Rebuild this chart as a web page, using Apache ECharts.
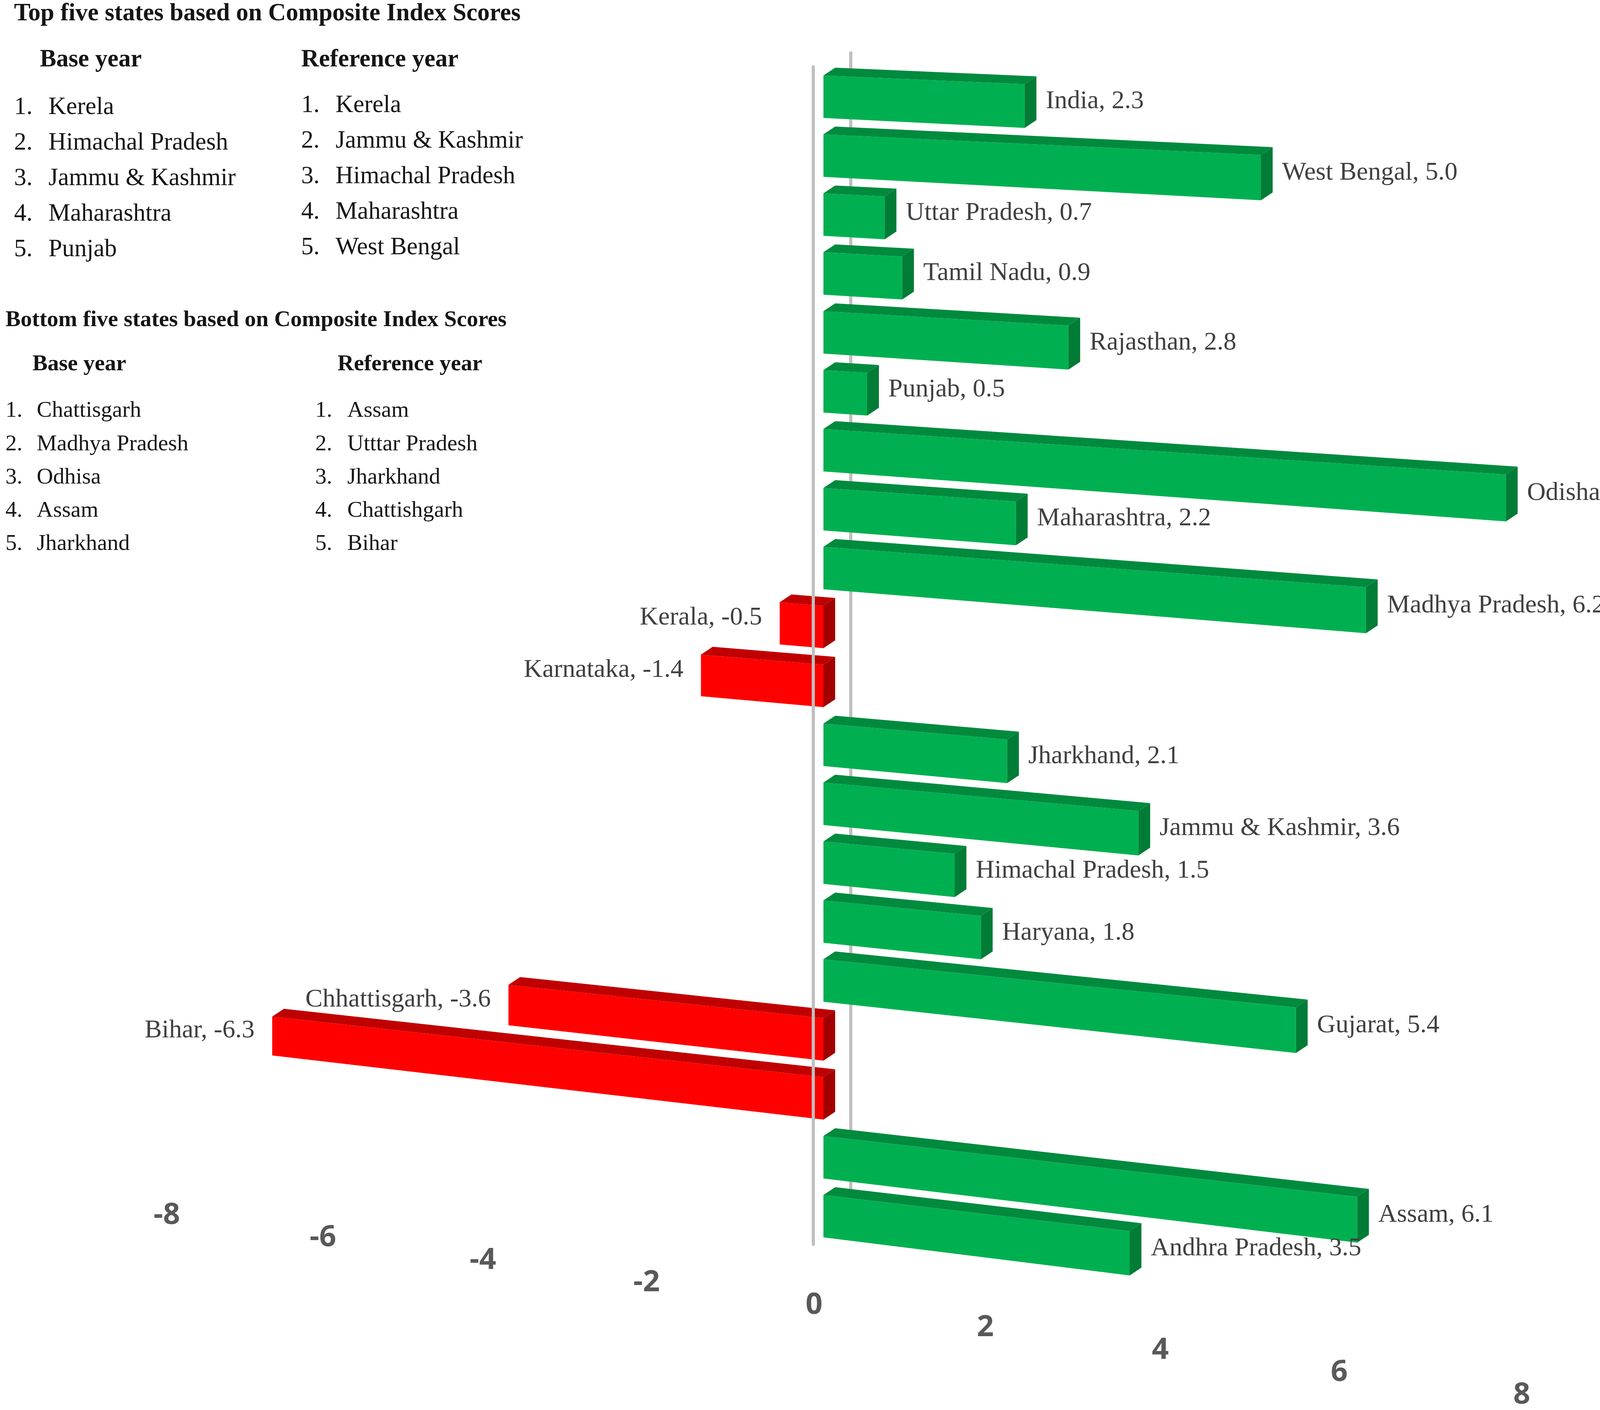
<!DOCTYPE html>
<html>
<head>
<meta charset="utf-8">
<title>Change in Composite Index scores by state</title>
<script src="https://cdn.jsdelivr.net/npm/echarts@6/dist/echarts.min.js"></script>
<style>
  html, body { margin: 0; padding: 0; background: #fff; }
  #chart { width: 4317px; height: 3610px; }
</style>
</head>
<body>
<div id="chart"></div>
<script>
// states from top to bottom, as in the figure
const states = ['India', 'West Bengal', 'Uttar Pradesh', 'Tamil Nadu', 'Rajasthan', 'Punjab', 'Odisha',
  'Maharashtra', 'Madhya Pradesh', 'Kerala', 'Karnataka', 'Jharkhand', 'Jammu & Kashmir',
  'Himachal Pradesh', 'Haryana', 'Gujarat', 'Chhattisgarh', 'Bihar', 'Assam', 'Andhra Pradesh']
const change = [2.3, 5.0, 0.7, 0.9, 2.8, 0.5, 7.8, 2.2, 6.2, -0.5, -1.4, 2.1, 3.6, 1.5, 1.8, 5.4, -3.6, -6.3, 6.1, 3.5]
const xTicks = [-8, -6, -4, -2, 0, 2, 4, 6, 8]

// ranking lists in the corner
const topBase = ['Kerela', 'Himachal Pradesh', 'Jammu & Kashmir', 'Maharashtra', 'Punjab']
const topRef = ['Kerela', 'Jammu & Kashmir', 'Himachal Pradesh', 'Maharashtra', 'West Bengal']
const bottomBase = ['Chattisgarh', 'Madhya Pradesh', 'Odhisa', 'Assam', 'Jharkhand']
const bottomRef = ['Assam', 'Utttar Pradesh', 'Jharkhand', 'Chattishgarh', 'Bihar']

const SERIF = '"Liberation Serif", "Times New Roman", serif'
const GREEN = ['#00b050', '#008a3e', '#007c36']   // front, top, end
const RED = ['#ff0000', '#c00000', '#a20000']
const SHIFT = 26          // bars sit a bit behind the front wall
const DEPTH = [30, -20]   // bar thickness going back
const BACK_WALL = 96

// fake the excel 3d perspective: rows slope down to the right, more so lower down
function skew (x, y, x0, yc) {
  const dx = x - x0
  return [x, y + dx * (0.04 + 0.000026 * yc) + (y - yc) * 0.00006 * dx]
}

function renderBar (params, api) {
  const v = api.value(0)
  const idx = api.value(1)
  const zero = api.coord([0, idx])
  const end = api.coord([v, idx])
  const x0 = zero[0]
  const yc = zero[1]
  const h = api.size([0, 1])[1] * 0.72
  const xa = Math.min(x0, end[0]) + SHIFT
  const xb = Math.max(x0, end[0]) + SHIFT
  const p = (x, y) => skew(x, y, x0, yc)
  const tl = p(xa, yc - h / 2), tr = p(xb, yc - h / 2)
  const br = p(xb, yc + h / 2), bl = p(xa, yc + h / 2)
  const back = pt => [pt[0] + DEPTH[0], pt[1] + DEPTH[1]]
  const col = v < 0 ? RED : GREEN
  const z = 100 - idx

  let lx, ly, align
  if (v >= 0) {
    lx = xb + DEPTH[0] + 24
    ly = p(xb, yc)[1] - 12
    align = 'left'
  } else {
    lx = xa - 45
    ly = p(xa, yc)[1] - 14
    align = 'right'
  }

  return {
    type: 'group',
    children: [
      { type: 'polygon', z2: z, shape: { points: [tl, tr, br, bl] }, style: { fill: col[0] } },
      { type: 'polygon', z2: z, shape: { points: [tl, tr, back(tr), back(tl)] }, style: { fill: col[1] } },
      { type: 'polygon', z2: z, shape: { points: [tr, br, back(br), back(tr)] }, style: { fill: col[2] } },
      {
        type: 'text', z2: 300,
        style: {
          text: states[params.dataIndex] + ', ' + v.toFixed(1),
          x: lx, y: ly, align: align, verticalAlign: 'middle',
          fill: '#404040', font: '66px ' + SERIF
        }
      }
    ]
  }
}

// tick labels follow the slanted floor edge
// (labels are centred on their box, so the top padding counts double)
const tickRich = {}
xTicks.forEach((t, i) => {
  const sx = 2 - 7.2 * t + 1.21 * t * t
  tickRich['t' + i] = {
    fontFamily: '"Open Sans", sans-serif',
    fontWeight: 'bold',
    fontSize: 76,
    lineHeight: 80,
    color: '#595959',
    padding: [115 * i, sx < 0 ? -2 * sx : 0, 0, sx > 0 ? 2 * sx : 0]
  }
})

let myChart = echarts.init(document.getElementById('chart'))

myChart.setOption({
  animation: false,
  backgroundColor: '#fff',
  grid: { left: 290, right: 443, top: 171, bottom: 423 },
  xAxis: {
    type: 'value', min: -8, max: 8, interval: 2,
    axisLine: { show: false },
    axisTick: { show: false },
    splitLine: { show: false },
    axisLabel: {
      margin: -114,
      formatter: v => '{t' + xTicks.indexOf(v) + '|' + v + '}',
      rich: tickRich
    }
  },
  yAxis: {
    type: 'category', data: states, inverse: true, z: 5,
    axisLine: { show: true, onZero: true, lineStyle: { color: '#bfbfbf', width: 8 } },
    axisTick: { show: false },
    axisLabel: { show: false },
    splitLine: { show: false }
  },
  series: [{
    type: 'custom',
    z: 2,
    renderItem: renderBar,
    encode: { x: 0, y: 1 },
    data: change.map((v, i) => [v, i])
  }]
})

function txt (x, y, text, size, bold) {
  return {
    type: 'text', x: x, y: y, z: 10,
    style: {
      text: text, fill: '#151515', verticalAlign: 'middle',
      font: (bold ? 'bold ' : '') + size + 'px ' + SERIF
    }
  }
}

function list (items, xNum, xName, y0, step, size) {
  return items.flatMap((s, i) => [
    txt(xNum, y0 + i * step, (i + 1) + '.', size, false),
    txt(xName, y0 + i * step, s, size, false)
  ])
}

const zeroX = myChart.convertToPixel({ xAxisIndex: 0 }, 0)

const graphics = [
  {
    type: 'line', z: 1,
    shape: { x1: zeroX + BACK_WALL, y1: 132, x2: zeroX + BACK_WALL, y2: 3060 },
    style: { stroke: '#bfbfbf', lineWidth: 8 }
  },
  txt(36, 36, 'Top five states based on Composite Index Scores', 63, true),
  txt(102, 154, 'Base year', 63, true),
  txt(771, 154, 'Reference year', 63, true),
  ...list(topBase, 36, 124, 275, 91, 63),
  ...list(topRef, 771, 859, 270, 91, 63),
  txt(14, 820, 'Bottom five states based on Composite Index Scores', 58, true),
  txt(83, 933, 'Base year', 58, true),
  txt(864, 933, 'Reference year', 58, true),
  ...list(bottomBase, 14, 94, 1052, 85.3, 58),
  ...list(bottomRef, 807, 889, 1052, 85.3, 58)
]

myChart.setOption({ graphic: graphics })
</script>
</body>
</html>
